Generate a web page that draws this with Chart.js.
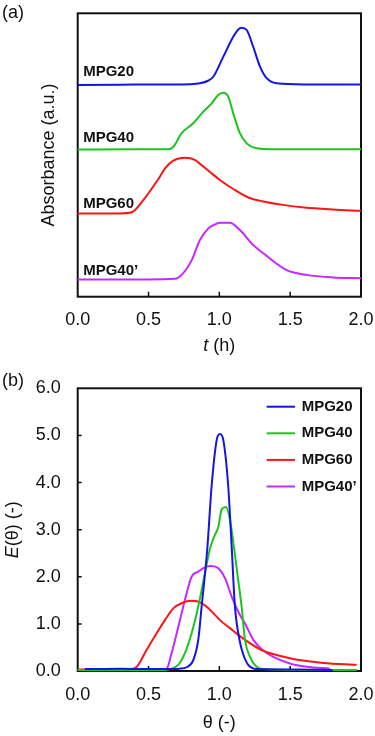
<!DOCTYPE html>
<html><head><meta charset="utf-8">
<script src="https://cdn.jsdelivr.net/npm/chart.js@4/dist/chart.umd.min.js"></script>
<style>
body{margin:0;background:#fff;width:375px;height:736px;position:relative;overflow:hidden;font-family:"Liberation Sans",Arial,sans-serif}
#ca{position:absolute;left:0;top:0}
#cb{position:absolute;left:0;top:370px}
.pl{position:absolute;font-size:18px;color:#111;line-height:20px}
</style></head><body>
<canvas id="ca" width="375" height="370"></canvas>
<canvas id="cb" width="375" height="366"></canvas>
<div class="pl" style="left:2px;top:2px">(a)</div>
<div class="pl" style="left:2px;top:370px">(b)</div>
<script>
const seriesNames = ['MPG20', 'MPG40', 'MPG60', 'MPG40\u2019'];
const seriesColors = ['#1414e6', '#1ec41e', '#ff1414', '#c828ff'];
const xTicks = [0, 0.5, 1.0, 1.5, 2.0];
const yTicksB = [0, 1, 2, 3, 4, 5, 6];

// Panel (a): absorbance vs t (h), curves offset (arbitrary units 0..10)
const aT20 = [0, 0.3, 0.6, 0.80, 0.863, 0.92, 0.957, 1.028, 1.098, 1.134, 1.157, 1.193, 1.239, 1.287, 1.334, 1.404, 1.6, 2.0];
const aY20 = [7.47, 7.48, 7.49, 7.50, 7.53, 7.62, 7.76, 8.47, 9.17, 9.43, 9.49, 9.41, 8.82, 8.12, 7.71, 7.53, 7.49, 7.49];
const aT40 = [0, 0.4, 0.64, 0.675, 0.734, 0.816, 0.887, 0.946, 0.992, 1.028, 1.063, 1.098, 1.145, 1.193, 1.263, 1.4, 2.0];
const aY40 = [5.19, 5.20, 5.20, 5.29, 5.77, 6.12, 6.53, 6.82, 7.12, 7.20, 7.06, 6.47, 5.77, 5.41, 5.24, 5.20, 5.20];
const aT60 = [0, 0.3, 0.381, 0.463, 0.569, 0.62, 0.675, 0.757, 0.83, 0.87, 0.934, 1.004, 1.098, 1.204, 1.31, 1.45, 1.6, 1.8, 2.0];
const aY60 = [2.94, 2.94, 2.98, 3.41, 4.15, 4.55, 4.80, 4.90, 4.82, 4.66, 4.40, 4.12, 3.80, 3.50, 3.36, 3.24, 3.15, 3.08, 3.03];
const aT40p = [0, 0.5, 0.687, 0.734, 0.805, 0.863, 0.922, 0.96, 1.004, 1.075, 1.145, 1.24, 1.334, 1.40, 1.475, 1.616, 1.8, 2.0];
const aY40p = [0.61, 0.61, 0.63, 0.77, 1.29, 2.0, 2.41, 2.53, 2.61, 2.61, 2.35, 1.82, 1.44, 1.18, 0.94, 0.77, 0.68, 0.65];
const aLabelY = [7.94, 5.60, 3.27, 0.92];

// Panel (b): E(theta) vs theta
const bX20 = [0.05, 0.3, 0.6, 0.72, 0.769, 0.816, 0.851, 0.875, 0.915, 0.945, 0.981, 1.004, 1.028, 1.063, 1.085, 1.11, 1.145, 1.169, 1.204, 1.263, 1.5, 1.8];
const bE20 = [0.04, 0.05, 0.04, 0.05, 0.08, 0.23, 0.66, 1.37, 2.60, 3.91, 4.90, 5.03, 4.90, 3.91, 2.75, 1.37, 0.62, 0.35, 0.13, 0.04, 0.03, 0.02];
const bX40 = [0, 0.6, 0.651, 0.710, 0.757, 0.804, 0.851, 0.898, 0.934, 0.969, 0.993, 1.016, 1.047, 1.075, 1.10, 1.13, 1.157, 1.181, 1.216, 1.263, 1.31, 1.6, 1.97];
const bE40 = [0.02, 0.02, 0.04, 0.13, 0.38, 0.80, 1.37, 2.07, 2.60, 2.89, 3.06, 3.43, 3.48, 3.21, 2.70, 2.00, 1.37, 0.66, 0.30, 0.09, 0.04, 0.02, 0.02];
const bX60 = [0, 0.35, 0.404, 0.487, 0.557, 0.616, 0.675, 0.734, 0.804, 0.875, 0.934, 1.004, 1.075, 1.145, 1.287, 1.38, 1.498, 1.616, 1.733, 1.969];
const bE60 = [0.03, 0.04, 0.06, 0.45, 0.80, 1.08, 1.33, 1.44, 1.49, 1.44, 1.30, 1.08, 0.91, 0.74, 0.46, 0.36, 0.27, 0.21, 0.17, 0.13];
const bX40p = [0, 0.6, 0.628, 0.663, 0.699, 0.734, 0.769, 0.804, 0.851, 0.898, 0.945, 0.993, 1.04, 1.087, 1.14, 1.181, 1.240, 1.299, 1.38, 1.498, 1.616, 1.78];
const bE40p = [0.02, 0.02, 0.04, 0.38, 0.80, 1.23, 1.65, 2.00, 2.11, 2.20, 2.23, 2.18, 1.97, 1.58, 1.22, 1.01, 0.66, 0.46, 0.30, 0.16, 0.09, 0.05];

const FAM = '"Liberation Sans", Arial, sans-serif';
const pts = (xs, ys) => xs.map((x, i) => ({x: x, y: ys[i]}));
const mkDs = (xs, ys, i) => ({
  label: seriesNames[i], data: pts(xs, ys), borderColor: seriesColors[i], backgroundColor: seriesColors[i],
  borderWidth: 2, pointRadius: 0, fill: false, cubicInterpolationMode: 'monotone', clip: 4
});

function drawSegs(ctx, segs, size, x, y, rotate) {
  ctx.save();
  ctx.fillStyle = '#111';
  ctx.textBaseline = 'middle';
  ctx.textAlign = 'left';
  let w = 0;
  segs.forEach(s => { ctx.font = (s.i ? 'italic ' : '') + size + 'px ' + FAM; w += ctx.measureText(s.t).width; });
  ctx.translate(x, y);
  if (rotate) ctx.rotate(-Math.PI / 2);
  let cx = -w / 2;
  segs.forEach(s => { ctx.font = (s.i ? 'italic ' : '') + size + 'px ' + FAM; ctx.fillText(s.t, cx, 0); cx += ctx.measureText(s.t).width; });
  ctx.restore();
}

const framePlugin = {
  id: 'frame',
  beforeDatasetsDraw(chart, args, o) {
    const {ctx, chartArea: a, scales} = chart;
    ctx.save();
    ctx.strokeStyle = '#111';
    ctx.lineWidth = 2;
    ctx.strokeRect(a.left, a.top, a.right - a.left, a.bottom - a.top);
    ctx.lineWidth = 1.5;
    ctx.beginPath();
    (o.xt || []).forEach(v => {
      if (v > scales.x.min && v < scales.x.max) {
        const p = scales.x.getPixelForValue(v);
        ctx.moveTo(p, a.bottom); ctx.lineTo(p, a.bottom - 5);
      }
    });
    (o.yt || []).forEach(v => {
      if (v > scales.y.min && v < scales.y.max) {
        const p = scales.y.getPixelForValue(v);
        ctx.moveTo(a.left, p); ctx.lineTo(a.left + 4, p);
      }
    });
    ctx.stroke();
    ctx.restore();
  },
  afterDraw(chart, args, o) {
    const {ctx, chartArea: a, scales} = chart;
    const cx = (a.left + a.right) / 2, cy = (a.top + a.bottom) / 2;
    drawSegs(ctx, o.xtitle, 18, cx, o.xtitleY, false);
    drawSegs(ctx, o.ytitle, 18, o.ytitleX, cy, true);
    if (o.labels) {
      ctx.save();
      ctx.font = 'bold 15px ' + FAM;
      ctx.fillStyle = '#111';
      ctx.textBaseline = 'middle';
      chart.data.datasets.forEach((d, i) => {
        ctx.fillText(d.label, a.left + 5.5, scales.y.getPixelForValue(aLabelY[i]));
      });
      ctx.restore();
    }
    if (o.legend) {
      ctx.save();
      ctx.font = 'bold 15px ' + FAM;
      ctx.textBaseline = 'middle';
      chart.data.datasets.forEach((d, i) => {
        const y = a.top + 18.4 + i * 26.6;
        ctx.strokeStyle = d.borderColor; ctx.lineWidth = 2;
        ctx.beginPath(); ctx.moveTo(266.7, y); ctx.lineTo(295, y); ctx.stroke();
        ctx.fillStyle = '#111';
        ctx.fillText(d.label, 301.7, y);
      });
      ctx.restore();
    }
  }
};

const zeroPad = s => { s.paddingLeft = 0; s.paddingRight = 0; s.paddingTop = 0; s.paddingBottom = 0; };
const tickFont = {size: 18, family: FAM};
function xScale(h, pad) {
  return {
    type: 'linear', min: 0, max: 2,
    afterBuildTicks: s => { s.ticks = xTicks.map(v => ({value: v})); },
    grid: {display: false, drawTicks: false}, border: {display: false},
    ticks: {font: tickFont, color: '#111', padding: pad, autoSkip: false, maxRotation: 0, callback: v => Number(v).toFixed(1)},
    afterFit: s => { s.height = h; zeroPad(s); }
  };
}

new Chart(document.getElementById('ca'), {
  type: 'line',
  data: {datasets: [mkDs(aT20, aY20, 0), mkDs(aT40, aY40, 1), mkDs(aT60, aY60, 2), mkDs(aT40p, aY40p, 3)]},
  options: {
    responsive: false, animation: false, events: [],
    layout: {padding: {left: 0, right: 14, top: 13.3, bottom: 0}},
    plugins: {legend: {display: false}, tooltip: {enabled: false},
      frame: {xt: xTicks, xtitle: [{t: 't', i: true}, {t: ' (h)'}], xtitleY: 346, ytitle: [{t: 'Absorbance (a.u.)'}], ytitleX: 49, labels: true}},
    scales: {
      x: xScale(73.3, 12.5),
      y: {type: 'linear', min: 0, max: 10, ticks: {display: false}, grid: {display: false, drawTicks: false}, border: {display: false},
        afterFit: s => { s.width = 77.7; zeroPad(s); }}
    }
  },
  plugins: [framePlugin]
});

new Chart(document.getElementById('cb'), {
  type: 'line',
  data: {datasets: [mkDs(bX20, bE20, 0), mkDs(bX40, bE40, 1), mkDs(bX60, bE60, 2), mkDs(bX40p, bE40p, 3)]},
  options: {
    responsive: false, animation: false, events: [],
    layout: {padding: {left: 0, right: 14, top: 18.3, bottom: 0}},
    plugins: {legend: {display: false}, tooltip: {enabled: false},
      frame: {xt: xTicks, yt: yTicksB, xtitle: [{t: '\u03b8 (-)'}], xtitleY: 353, ytitle: [{t: 'E', i: true}, {t: '(\u03b8) (-)'}], ytitleX: 13, legend: true}},
    scales: {
      x: xScale(65, 13),
      y: {type: 'linear', min: 0, max: 6,
        afterBuildTicks: s => { s.ticks = yTicksB.map(v => ({value: v})); },
        ticks: {font: tickFont, color: '#111', padding: 17, callback: v => Number(v).toFixed(1)},
        grid: {display: false, drawTicks: false}, border: {display: false},
        afterFit: s => { s.width = 77.7; zeroPad(s); }}
    }
  },
  plugins: [framePlugin]
});
</script>
</body></html>
